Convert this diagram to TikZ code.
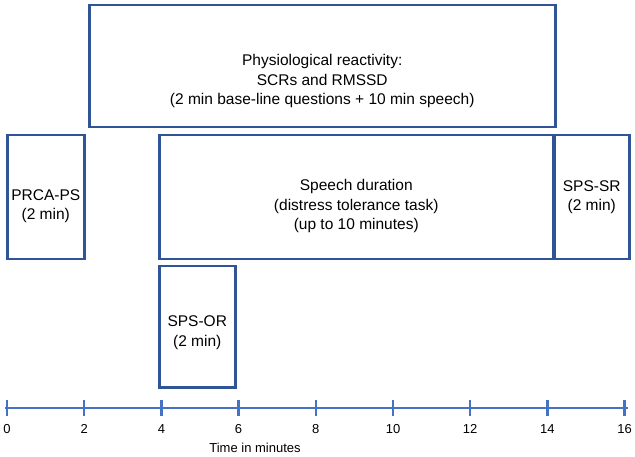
\documentclass[tikz,border=0pt]{standalone}
\usepackage{fontspec}
\setmainfont{Liberation Sans}
\definecolor{boxblue}{HTML}{2F5597}
\definecolor{axisblue}{HTML}{4472C4}
\begin{document}
\begin{tikzpicture}[x=1pt,y=-1pt,
  box/.style={draw=boxblue,line width=2.5pt,inner sep=0pt,anchor=north west},
  lbl/.style={align=center,font=\fontsize{15.5}{19.5}\selectfont,inner sep=0pt},
  ticklbl/.style={font=\fontsize{13}{15}\selectfont,inner sep=0pt},
  axis/.style={draw=axisblue,line width=2.5pt}]
\useasboundingbox (0,0) rectangle (635,457);
% boxes
\node[box,minimum width=466pt,minimum height=122pt] (phys) at (88,4) {};
\node[box,minimum width=77pt,minimum height=124pt] (prca) at (6,134) {};
\node[box,minimum width=394pt,minimum height=124pt] (speech) at (158,134) {};
\node[box,minimum width=75pt,minimum height=124pt] (spssr) at (553,134) {};
\node[box,minimum width=76pt,minimum height=121pt] (spsor) at (158,265) {};
% texts
\node[lbl] (tphys) at ([yshift=-15pt]phys.center) {Physiological reactivity:\\SCRs and RMSSD\\(2 min base-line questions + 10 min speech)};
\node[lbl] (tprca) at ([yshift=-9pt]prca.center) {PRCA-PS\\(2 min)};
\node[lbl] (tspeech) at ([yshift=-9pt]speech.center) {Speech duration\\(distress tolerance task)\\(up to 10 minutes)};
\node[lbl] (tspssr) at ([yshift=0pt]spssr.center) {SPS-SR\\(2 min)};
\node[lbl] (tspsor) at ([yshift=-6pt]spsor.center) {SPS-OR\\(2 min)};
% axis
\coordinate (a0) at (5,408);
\coordinate (a1) at (628,408);
\draw[axis] (a0) -- (a1);
\foreach \t [count=\i from 0] in {0,2,...,16} {
  \coordinate (tk\i) at ({7+38.6*\t},408);
  \draw[axis] ([yshift=-8pt]tk\i) -- ([yshift=8pt]tk\i);
  \node[ticklbl] (tl\i) at ([yshift=-21pt]tk\i) {\t};
}
\node[ticklbl] (axlbl) at (255,448) {Time in minutes};
\end{tikzpicture}
\end{document}
